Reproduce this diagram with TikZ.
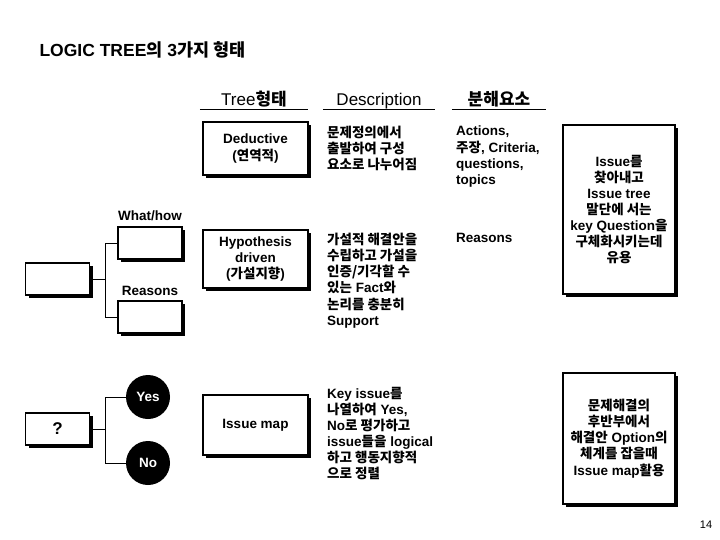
\documentclass[tikz,border=0pt]{standalone}
\usepackage{fontspec}
\setmainfont{Liberation Sans}
\newfontfamily\krfont{Noto Sans CJK KR}
\newcommand{\kr}[1]{{\krfont #1}}
\usetikzlibrary{shadows,positioning}

\begin{document}
\begin{tikzpicture}[x=1pt, y=-1pt,
  every node/.style={font=\fontsize{13.5}{16.1}\selectfont\bfseries},
  box/.style={draw, line width=1.2pt, fill=white, align=center, inner sep=0pt,
    drop shadow={opacity=1, fill=black, shadow xshift=3pt, shadow yshift=-3pt}},
  leaf/.style={box, minimum width=64pt, minimum height=32pt},
  hdr/.style={font=\fontsize{17}{19}\selectfont, anchor=south, inner sep=0pt, text depth=4pt},
  txt/.style={anchor=north west, align=left, inner sep=0pt},
  dot/.style={circle, fill=black, text=white, minimum size=44pt, inner sep=0pt},
  link/.style={line width=1pt}]
  \useasboundingbox[fill=white] (0,0) rectangle (720,540);

  \node[anchor=base west, font=\fontsize{17.5}{20}\selectfont\bfseries] (title) at (36,57)
    {LOGIC TREE\kr{의} 3\kr{가지 형태}};

  % column headers
  \node[hdr, minimum width=108pt] (hdrTree) at (254,110) {Tree\kr{\bfseries 형태}};
  \node[hdr, minimum width=112pt] (hdrDesc) at (379,110) {Description};
  \node[hdr, minimum width=94pt] (hdrElem) at (499,110) {\kr{\bfseries 분해요소}};
  \foreach \h in {hdrTree,hdrDesc,hdrElem}
    \draw[link] (\h.south west) -- (\h.south east);

  % deductive
  \node[box, minimum width=105pt, minimum height=53pt] (dedBox) at (255.5,148.5)
    {Deductive\\(\kr{연역적})};
  \node[txt] (desc1) at (327,126)
    {\kr{문제정의에서}\\\kr{출발하여 구성}\\\kr{요소로 나누어짐}};
  \node[txt] (elem1) at (456,126)
    {Actions,\\\kr{주장}, Criteria,\\questions,\\topics};
  \node[box, minimum width=112pt, minimum height=169pt] (useBox1) at (619,209.5)
    {Issue\kr{를}\\\kr{찾아내고}\\Issue tree\\\kr{말단에 서는}\\key Question\kr{을}\\\kr{구체화시키는데}\\\kr{유용}};

  % hypothesis tree
  \node[leaf] (root1) at (57.5,279) {};
  \node[leaf] (what) at (150,243) {};
  \node[leaf] (reason) at (150,317) {};
  \node[above=2pt of what] (whatLbl) {What/how};
  \node[above=1pt of reason] (reasonLbl) {Reasons};
  \coordinate (fork1) at (105,279);
  \draw[link] (root1.east) -- (fork1) (fork1) |- (what.west) (fork1) |- (reason.west);

  \node[box, minimum width=105pt, minimum height=58pt] (hypBox) at (255.5,259)
    {Hypothesis\\driven\\(\kr{가설지향})};
  \node[txt] (desc2) at (327,233)
    {\kr{가설적 해결안을}\\\kr{수립하고 가설을}\\\kr{인증/기각할 수}\\\kr{있는} Fact\kr{와}\\\kr{논리를 충분히}\\Support};
  \node[txt] (elem2) at (456,233) {Reasons};

  % issue map
  \node[leaf, font=\fontsize{17}{19}\selectfont\bfseries] (root3) at (57.5,429) {?};
  \node[dot] (yes) at (148,397) {Yes};
  \node[dot] (no) at (148,463) {No};
  \coordinate (fork3) at (105,429);
  \draw[link] (root3.east) -- (fork3) (fork3) |- (yes.west) (fork3) |- (no.west);

  \node[box, minimum width=105pt, minimum height=60pt] (mapBox) at (255.5,425) {Issue map};
  \node[txt] (desc3) at (327,387)
    {Key issue\kr{를}\\\kr{나열하여} Yes,\\No\kr{로 평가하고}\\issue\kr{들을} logical\\\kr{하고 행동지향적}\\\kr{으로 정렬}};
  \node[box, minimum width=112pt, minimum height=131pt] (useBox2) at (619,438.5)
    {\kr{문제해결의}\\\kr{후반부에서}\\\kr{해결안} Option\kr{의}\\\kr{체계를 잡을때}\\Issue map\kr{활용}};

  \node[font=\fontsize{11}{13}\selectfont] (page) at (706,525) {14};
\end{tikzpicture}
\end{document}
